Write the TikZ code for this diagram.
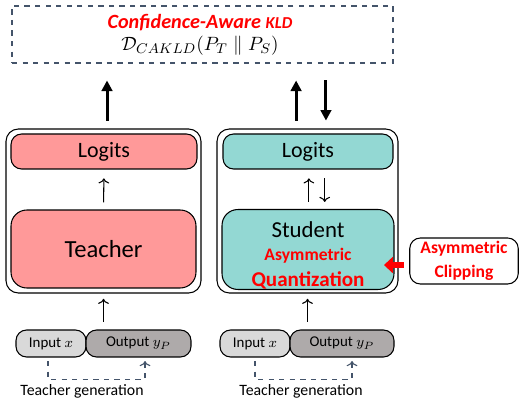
\documentclass[tikz,border=0pt]{standalone}
\usepackage{fontspec}
\setmainfont{Carlito}
\usepackage{amsmath,amssymb}
\usepackage{xcolor}
\usepackage{tikz}
\usetikzlibrary{positioning,calc,arrows.meta}

\definecolor{tpink}{HTML}{FF9999}
\definecolor{steal}{HTML}{93D8D3}
\definecolor{inlight}{HTML}{D9D9D9}
\definecolor{outdark}{HTML}{AEAAAA}
\definecolor{navy}{HTML}{44546A}
\definecolor{hired}{HTML}{FF0000}

\newcommand{\redtxt}[2]{{\color{hired}\bfseries\fontsize{#1}{#1}\selectfont #2}}

\begin{document}
\begin{tikzpicture}[x=0.02cm, y=-0.02cm,
    box/.style={draw, inner sep=0pt, rounded corners=6pt, line width=0.6pt},
    outerbox/.style={box, rounded corners=7pt},
    big/.style={-{Triangle[length=6pt,width=6pt]}, line width=1.7pt},
    thin/.style={->, line width=0.6pt},
    gen/.style={-{To[open]}, dashed, navy, line width=0.6pt},
    redarr/.style={-{Triangle[length=5pt,width=9pt]}, line width=3.5pt, hired}]
    \useasboundingbox (0,0) rectangle (519,404);

    % KLD objective
    \node[draw=navy, dashed, line width=0.7pt, minimum width=7.62cm, minimum height=1.14cm] (kld) at (202.5,34.5) {};
    \node (title) at (200,23) {\color{hired}\bfseries\itshape\fontsize{11.5}{13}\selectfont Confidence-Aware {\fontsize{9.5}{11}\selectfont KLD}};
    \node (form) at (200,46) {\fontsize{11}{13}\selectfont $\mathcal{D}_{CAKLD}(P_T \parallel P_S)$};

    % Teacher side
    \node[outerbox, minimum width=3.9cm, minimum height=3.28cm] (tout) at (103.5,211) {};
    \node[box, fill=tpink, minimum width=3.72cm, minimum height=0.7cm] (tlog) at (104,151.5) {\fontsize{12.5}{14}\selectfont Logits};
    \node[box, fill=tpink, rounded corners=9pt, minimum width=3.7cm, minimum height=1.56cm] (teach) at (103.5,249) {\fontsize{14}{16}\selectfont Teacher};

    % Student side
    \node[outerbox, minimum width=3.62cm, minimum height=3.28cm] (sout) at (307.5,211) {};
    \node[box, fill=steal, minimum width=3.4cm, minimum height=0.7cm] (slog) at (308,151.5) {\fontsize{12.5}{14}\selectfont Logits};
    \node[box, fill=steal, rounded corners=9pt, minimum width=3.44cm, minimum height=1.56cm, align=center] (stud) at (308,249.5)
        {{\fontsize{13}{14}\selectfont\rule{0pt}{16pt}Student}\\[1pt]
         \redtxt{10}{Asymmetric}\\[3pt]
         \redtxt{12}{Quantization}};
    \node[box, fill=white, rounded corners=6pt, minimum width=2.17cm, minimum height=0.92cm, align=center] (clip) at (464,261)
        {\redtxt{10}{Asymmetric}\\[2pt] \redtxt{10}{Clipping}};

    % Data pairs
    \node[box, fill=inlight, minimum width=1.4cm, minimum height=0.54cm] (tin) at (51,343.5) {\fontsize{8.5}{10}\selectfont Input $x$};
    \node[box, fill=outdark, minimum width=2.1cm, minimum height=0.54cm] (toy) at (138.5,343.5) {\fontsize{8.5}{10}\selectfont Output $y_P$};
    \node[box, fill=inlight, minimum width=1.4cm, minimum height=0.54cm] (sin) at (255,343.5) {\fontsize{8.5}{10}\selectfont Input $x$};
    \node[box, fill=outdark, minimum width=2.08cm, minimum height=0.54cm] (soy) at (342,343.5) {\fontsize{8.5}{10}\selectfont Output $y_P$};
    \node (tgen) at (82,391) {\fontsize{9}{10}\selectfont Teacher generation};
    \node (sgen) at (301,391) {\fontsize{9}{10}\selectfont Teacher generation};

    % big arrows to the objective
    \draw[big] ([xshift=2pt,yshift=4.5pt]tout.north) -- ([xshift=2pt,yshift=-9.6pt]tout.north |- kld.south);
    \draw[big] ([xshift=-6.5pt,yshift=4.5pt]sout.north) -- ([xshift=-6.5pt,yshift=-9.6pt]sout.north |- kld.south);
    \draw[big] ([xshift=10.5pt,yshift=-9.6pt]sout.north |- kld.south) -- ([xshift=10.5pt,yshift=4.5pt]sout.north);

    % inside the models
    \draw[thin, shorten <=4pt, shorten >=5pt] (teach.north) -- (tlog.south);
    \draw[thin, shorten <=4pt, shorten >=5pt] ([xshift=0.5pt]stud.north) -- ([xshift=0.5pt]slog.south);
    \draw[thin, shorten <=5pt, shorten >=4pt] ([xshift=9.5pt]slog.south) -- ([xshift=9.5pt]stud.north);
    \draw[redarr, shorten <=3pt, shorten >=-6pt] ([yshift=-2.3pt]clip.west) -- ([yshift=-2.3pt]stud.east |- clip.west);

    % data into the models
    \draw[thin, shorten <=4.5pt, shorten >=3pt] (tout.south |- tin.north) -- (tout.south);
    \draw[thin, shorten <=4.5pt, shorten >=3pt] (sout.south |- sin.north) -- (sout.south);

    % teacher generation
    \draw[gen] ([xshift=-1.7pt,yshift=-2pt]tin.south) -- ++(0,18) -| ([xshift=3.7pt,yshift=-2pt]toy.south);
    \draw[gen] ([yshift=-2pt]sin.south) -- ++(0,18) -| ([xshift=5.7pt,yshift=-2pt]soy.south);
\end{tikzpicture}
\end{document}
